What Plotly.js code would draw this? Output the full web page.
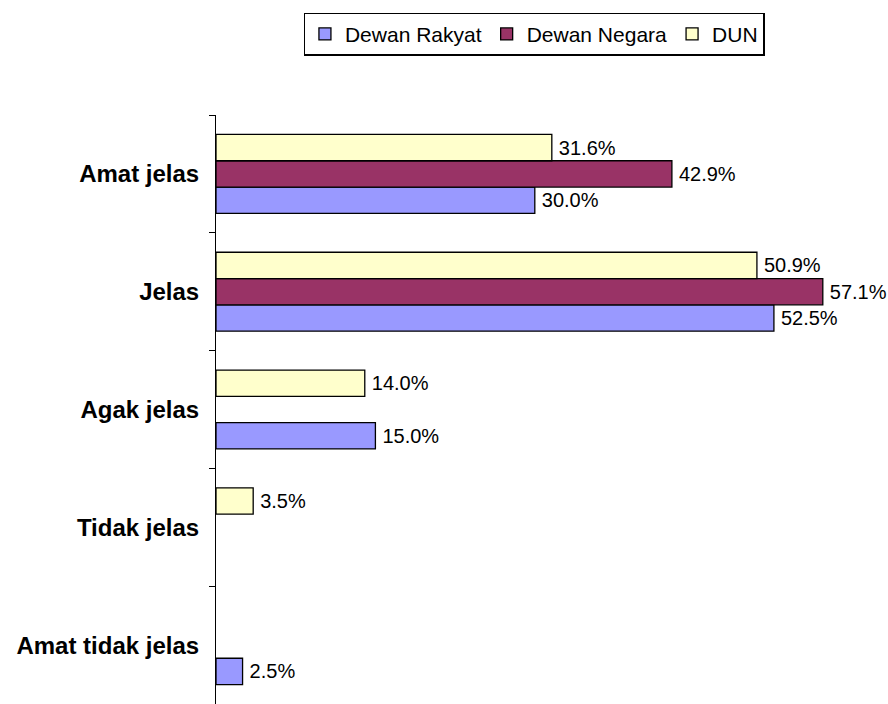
<!DOCTYPE html>
<html><head><meta charset="utf-8">
<script src="https://cdn.plot.ly/plotly-3.0.1.min.js"></script>
<style>body{margin:0;background:#fff}#c{width:888px;height:704px}</style>
</head><body><div id="c"></div>
<script>
const categories = ["Amat jelas", "Jelas", "Agak jelas", "Tidak jelas", "Amat tidak jelas"];
const seriesNames = ["Dewan Rakyat", "Dewan Negara", "DUN"];
const dewanRakyat = [30.0, 52.5, 15.0, null, 2.5];
const dewanNegara = [42.9, 57.1, null, null, null];
const dun = [31.6, 50.9, 14.0, 3.5, null];
const colors = ["#9999FF", "#993366", "#FFFFCC"];

const allSeries = [dewanRakyat, dewanNegara, dun];
const traces = allSeries.map((vals, i) => ({
  type: "bar",
  orientation: "h",
  name: seriesNames[i],
  y: categories,
  x: vals,
  text: vals.map(v => v == null ? "" : "\u2009" + v.toFixed(1) + "%"),
  textposition: "outside",
  textfont: {family: "Liberation Sans, Arial", size: 20, color: "#000"},
  cliponaxis: false,
  marker: {color: colors[i], line: {color: "#000", width: 1.3}},
  hoverinfo: "none"
}));

const layout = {
  width: 888, height: 704,
  margin: {l: 216, r: 28, t: 115, b: 0},
  paper_bgcolor: "#fff", plot_bgcolor: "#fff",
  barmode: "group",
  bargap: 0.33, bargroupgap: 0,
  showlegend: true,
  legend: {
    orientation: "h", x: 0.494, xanchor: "center", y: 1.1375, yanchor: "middle",
    bordercolor: "#000", borderwidth: 1.3, bgcolor: "#fff",
    font: {family: "Liberation Sans, Arial", size: 21, color: "#000"},
    traceorder: "normal", itemwidth: 30, tracegroupgap: 0
  },
  xaxis: {range: [0, 60.6], visible: false, fixedrange: true},
  yaxis: {
    type: "category",
    categoryorder: "array",
    categoryarray: categories.slice().reverse(),
    showline: true, linecolor: "#000", linewidth: 1,
    ticks: "outside", ticklen: 6, tickcolor: "#000", tickwidth: 1,
    tickson: "boundaries",
    ticklabelstandoff: 11,
    showgrid: false, zeroline: false,
    tickfont: {family: "Liberation Sans, Arial", size: 24, color: "#000", weight: "bold"}
  },
  font: {family: "Liberation Sans, Arial"}
};

Plotly.newPlot("c", traces, layout, {displayModeBar: false, staticPlot: true});
</script></body></html>
